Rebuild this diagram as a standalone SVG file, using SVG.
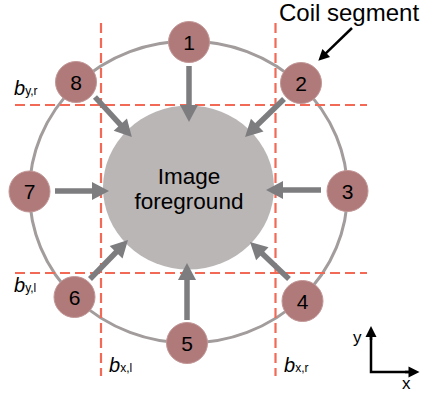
<svg xmlns="http://www.w3.org/2000/svg" width="424" height="394" viewBox="0 0 424 394">
<style>
.ring{fill:none;stroke:#a29c9c;stroke-width:3}
.dash{stroke:#f26a55;stroke-width:2.2;stroke-dasharray:10 5;fill:none}
.fg{fill:#bbb6b6}
.arr{stroke:#7d7d80;stroke-width:5.5;fill:none;marker-end:url(#gh)}
.node circle{fill:#b07a7a;stroke:#c29696;stroke-width:1}
.node text{font-family:"Liberation Sans",Arial,sans-serif;font-size:21px;text-anchor:middle;fill:#000}
.lbl{font-family:"Liberation Sans",Arial,sans-serif;fill:#000}
.blk{stroke:#000;stroke-width:2.5;fill:none}
</style>
<defs>
<marker id="gh" markerUnits="userSpaceOnUse" markerWidth="20" markerHeight="20" viewBox="0 -10 18 20" refX="1" refY="0" orient="auto">
<path d="M0,-9 L17,0 L0,9 Z" fill="#7d7d80"/>
</marker>
<marker id="bh" markerUnits="userSpaceOnUse" markerWidth="14" markerHeight="14" viewBox="0 -7 12 14" refX="1" refY="0" orient="auto">
<path d="M0,-5.5 L11,0 L0,5.5 Z" fill="#000"/>
</marker>
</defs>
<ellipse class="ring" cx="188.5" cy="192" rx="159" ry="151"/>
<g id="boundaries">
<line class="dash" x1="101" y1="23" x2="101" y2="376"/>
<line class="dash" x1="275.5" y1="23" x2="275.5" y2="376"/>
<line class="dash" x1="15" y1="105" x2="367" y2="105"/>
<line class="dash" x1="15" y1="273" x2="367" y2="273"/>
</g>
<g id="foreground">
<ellipse class="fg" cx="188.5" cy="187.5" rx="85.5" ry="82"/>
<text class="lbl" x="189" y="184" font-size="22.5" text-anchor="middle">Image</text>
<text class="lbl" x="189" y="209" font-size="22.5" text-anchor="middle">foreground</text>
</g>
<g id="connectors">
<line class="arr" x1="189" y1="66" x2="189" y2="106"/>
<line class="arr" x1="187" y1="320" x2="187" y2="279"/>
<line class="arr" x1="55" y1="191" x2="93" y2="191"/>
<line class="arr" x1="321" y1="190" x2="282" y2="190"/>
<line class="arr" x1="95" y1="97" x2="121" y2="125.3"/>
<line class="arr" x1="284" y1="99" x2="256.5" y2="125.8"/>
<line class="arr" x1="90" y1="279" x2="116.8" y2="251.5"/>
<line class="arr" x1="289" y1="279" x2="261.6" y2="253"/>
<line class="blk" x1="352" y1="28" x2="325.5" y2="53.7" marker-end="url(#bh)"/>
</g>
<g id="n1" class="node"><circle cx="189" cy="42" r="20.5"/><text x="189" y="49.5">1</text></g>
<g id="n2" class="node"><circle cx="301" cy="83" r="20.5"/><text x="301" y="90.5">2</text></g>
<g id="n3" class="node"><circle cx="347.5" cy="191" r="20.5"/><text x="347.5" y="198.5">3</text></g>
<g id="n4" class="node"><circle cx="302.5" cy="301" r="20.5"/><text x="302.5" y="308.5">4</text></g>
<g id="n5" class="node"><circle cx="187" cy="343" r="20.5"/><text x="187" y="350.5">5</text></g>
<g id="n6" class="node"><circle cx="74.5" cy="297" r="20.5"/><text x="74.5" y="304.5">6</text></g>
<g id="n7" class="node"><circle cx="29.5" cy="191.5" r="20.5"/><text x="29.5" y="199">7</text></g>
<g id="n8" class="node"><circle cx="76" cy="82" r="20.5"/><text x="76" y="89.5">8</text></g>
<g id="labels">
<text class="lbl" x="279" y="21" font-size="24">Coil segment</text>
<text class="lbl" x="14" y="95" font-size="20" font-style="italic">b<tspan font-size="12" font-style="normal">y,r</tspan></text>
<text class="lbl" x="14" y="292" font-size="20" font-style="italic">b<tspan font-size="12" font-style="normal">y,l</tspan></text>
<text class="lbl" x="109" y="372" font-size="20" font-style="italic">b<tspan font-size="12" font-style="normal">x,l</tspan></text>
<text class="lbl" x="284" y="372" font-size="20" font-style="italic">b<tspan font-size="12" font-style="normal">x,r</tspan></text>
</g>
<g id="axes">
<polyline class="blk" points="371,335 371,372 410,372" stroke-width="3"/>
<line class="blk" x1="371" y1="340" x2="371" y2="336" stroke-width="3" marker-end="url(#bh)"/>
<line class="blk" x1="405" y1="372" x2="409.5" y2="372" stroke-width="3" marker-end="url(#bh)"/>
<text class="lbl" x="353" y="343" font-size="17" font-family="'Liberation Serif',serif">y</text>
<text class="lbl" x="402" y="389" font-size="17" font-family="'Liberation Serif',serif">x</text>
</g>
</svg>
